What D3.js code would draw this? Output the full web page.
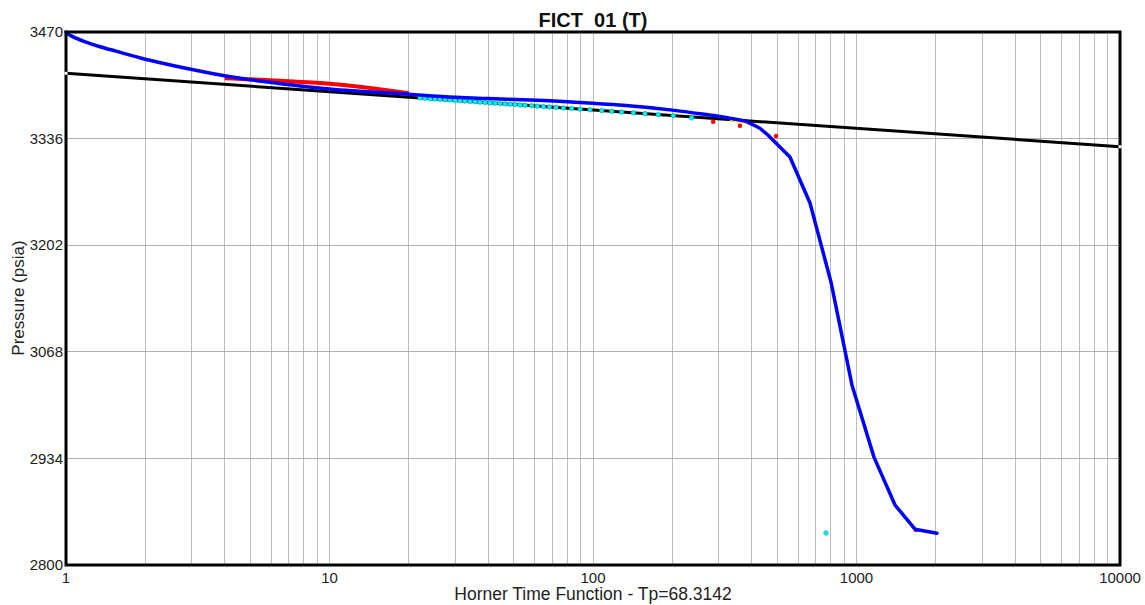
<!DOCTYPE html>
<html><head><meta charset="utf-8">
<script src="https://cdn.jsdelivr.net/npm/d3@7"></script>
<style>body{margin:0;background:#fff;}svg{display:block;font-family:Arial,"Liberation Sans",sans-serif;}</style>
</head><body>
<svg id="c" width="1145" height="605"></svg>
<script>
// ---- data ----
const chartTitle = "FICT\u00a0\u00a001 (T)";
const xTitle = "Horner Time Function - Tp=68.3142";
const yTitle = "Pressure (psia)";
const xTickValues = [1, 10, 100, 1000, 10000];
const xTickLabels = ["1", "10", "100", "1000", "10000"];
const yTickValues = [2800, 2934, 3068, 3202, 3336, 3470];
const yTickLabels = ["2800", "2934", "3068", "3202", "3336", "3470"];

// blue curve (Horner time, pressure) - smooth early part and segmented late part
const blueEarlyH = [1, 1.0176, 1.0447, 1.0914, 1.191, 1.346, 1.548, 2, 2.397, 3.01, 4.05, 5.75, 7.73, 10, 20, 30, 40, 58, 100, 130, 200, 260, 320, 380];
const blueEarlyP = [3470, 3467.5, 3465.2, 3462.2, 3457.3, 3451.5, 3445.9, 3435.8, 3429.8, 3422.8, 3414.7, 3407.4, 3402.1, 3398.4, 3391.7, 3388, 3386.3, 3384.5, 3380.4, 3378, 3371.8, 3366.8, 3362.5, 3358];
const blueLateH = [380, 430, 461, 559, 666, 800, 961, 1165, 1400, 1667, 2020];
const blueLateP = [3358, 3349, 3340.5, 3312.9, 3255, 3155.8, 3026.3, 2935.6, 2875.4, 2845, 2840];

// red band (Horner time, pressure)
const redH = [4, 6.5, 9.5, 14, 20];
const redP = [3411.8, 3408.8, 3405.5, 3400, 3393];

// straight-line fit (black)
const fitH = [1, 10000];
const fitP = [3418.1, 3325.8];

// cyan points
const cyanH = [22.06, 23.04, 24.06, 25.14, 26.26, 27.44, 28.66, 29.94, 31.28, 32.68, 34.14, 35.66, 37.25, 38.91, 40.65, 42.47, 44.37, 46.36, 48.42, 50.58, 52.84, 55.2, 58.5, 61.5, 64.8, 68.3, 72.4, 77.2, 83.0, 89.3, 97.4, 107.9, 117.8, 128.5, 142.2, 157.5, 176.9, 201.7, 236.8, 766];
const cyanP = [3387.1, 3386.7, 3386.2, 3385.8, 3385.3, 3384.9, 3384.5, 3384.0, 3383.6, 3383.2, 3382.7, 3382.3, 3381.8, 3381.4, 3381.0, 3380.5, 3380.1, 3379.6, 3379.2, 3378.8, 3378.3, 3377.9, 3377.3, 3376.8, 3376.3, 3375.8, 3375.2, 3374.5, 3373.8, 3373.1, 3372.2, 3371.2, 3370.3, 3369.4, 3368.4, 3367.4, 3366.2, 3364.9, 3362.0, 2840.2];

// red points
const redPtH = [286, 361, 495, 1682];
const redPtP = [3357.2, 3352.2, 3339.3, 2844];

// yellow segment
const yellowH = [331, 384];
const yellowP = [3359.6, 3356.2];

// ---- drawing ----
const svg = d3.select("#c");
const L = 66, R = 1120, T = 32, B = 565;
const x = d3.scaleLog().domain([1, 10000]).range([L, R]);
const y = d3.scaleLinear().domain([2800, 3470]).range([B, T]);

// vertical grid (minor + major)
const gridX = [];
for (let d = 1; d < 10000; d *= 10) for (let k = 1; k < 10; k++) { const v = d * k; if (v > 1) gridX.push(v); }
svg.append("g").selectAll("line").data(gridX).join("line")
  .attr("x1", d => x(d)).attr("x2", d => x(d)).attr("y1", T).attr("y2", B)
  .attr("stroke", "#bdbdbd").attr("stroke-width", 1).attr("shape-rendering", "crispEdges");
svg.append("g").selectAll("line").data(yTickValues.slice(1, -1)).join("line")
  .attr("x1", L).attr("x2", R).attr("y1", d => y(d)).attr("y2", d => y(d))
  .attr("stroke", "#b0b0b0").attr("stroke-width", 1).attr("shape-rendering", "crispEdges");

const line = d3.line().x(d => x(d[0])).y(d => y(d[1]));
const smooth = d3.line().x(d => x(d[0])).y(d => y(d[1])).curve(d3.curveMonotoneX);
const zip = (a, b) => a.map((v, i) => [v, b[i]]);

// black fit line
svg.append("path").datum(zip(fitH, fitP)).attr("d", line)
  .attr("fill", "none").attr("stroke", "#000").attr("stroke-width", 3);

// red band
svg.append("path").datum(zip(redH, redP)).attr("d", smooth)
  .attr("fill", "none").attr("stroke", "#ff0000").attr("stroke-width", 4);

// cyan points
svg.append("g").selectAll("circle").data(zip(cyanH, cyanP)).join("circle")
  .attr("cx", d => x(d[0])).attr("cy", d => y(d[1])).attr("r", 2.3)
  .attr("fill", "#00f0f0").attr("stroke", "#00aab4").attr("stroke-width", 0.6);

// yellow
svg.append("path").datum(zip(yellowH, yellowP)).attr("d", line)
  .attr("fill", "none").attr("stroke", "#f5f500").attr("stroke-width", 3);

// red points
svg.append("g").selectAll("circle").data(zip(redPtH, redPtP)).join("circle")
  .attr("cx", d => x(d[0])).attr("cy", d => y(d[1])).attr("r", 2.3).attr("fill", "#ff0000");

// blue curve
svg.append("path").datum(zip(blueEarlyH, blueEarlyP)).attr("d", smooth)
  .attr("fill", "none").attr("stroke", "#0000ff").attr("stroke-width", 3.5).attr("stroke-linejoin", "round").attr("stroke-linecap", "round");
svg.append("path").datum(zip(blueLateH, blueLateP)).attr("d", line)
  .attr("fill", "none").attr("stroke", "#0000ff").attr("stroke-width", 3.5).attr("stroke-linejoin", "round").attr("stroke-linecap", "round");

// frame
svg.append("rect").attr("x", L).attr("y", T).attr("width", R - L).attr("height", B - T)
  .attr("fill", "none").attr("stroke", "#000").attr("stroke-width", 3);

// white end markers of fit line
svg.append("g").selectAll("rect").data(zip(fitH, fitP)).join("rect")
  .attr("x", d => x(d[0]) - 1.5).attr("y", d => y(d[1]) - 1.5).attr("width", 3).attr("height", 3).attr("fill", "#fff");

// axes tick labels
svg.append("g").selectAll("text").data(yTickValues).join("text")
  .attr("x", L - 3).attr("y", d => y(d)).attr("dy", "0.35em").attr("text-anchor", "end")
  .attr("font-size", 15).attr("fill", "#222").text((d, i) => yTickLabels[i]);
svg.append("g").selectAll("text").data(xTickValues).join("text")
  .attr("x", d => x(d)).attr("y", B + 18).attr("text-anchor", "middle")
  .attr("font-size", 15).attr("fill", "#222").text((d, i) => xTickLabels[i]);

// titles
svg.append("text").attr("x", 593).attr("y", 27).attr("text-anchor", "middle")
  .attr("font-size", 20).attr("font-weight", "bold").attr("fill", "#111").text(chartTitle);
svg.append("text").attr("x", 593).attr("y", 600).attr("text-anchor", "middle")
  .attr("font-size", 17.5).attr("fill", "#222").text(xTitle);
svg.append("text").attr("transform", "translate(24,298) rotate(-90)").attr("text-anchor", "middle")
  .attr("font-size", 17).attr("fill", "#222").text(yTitle);
</script>
</body></html>
